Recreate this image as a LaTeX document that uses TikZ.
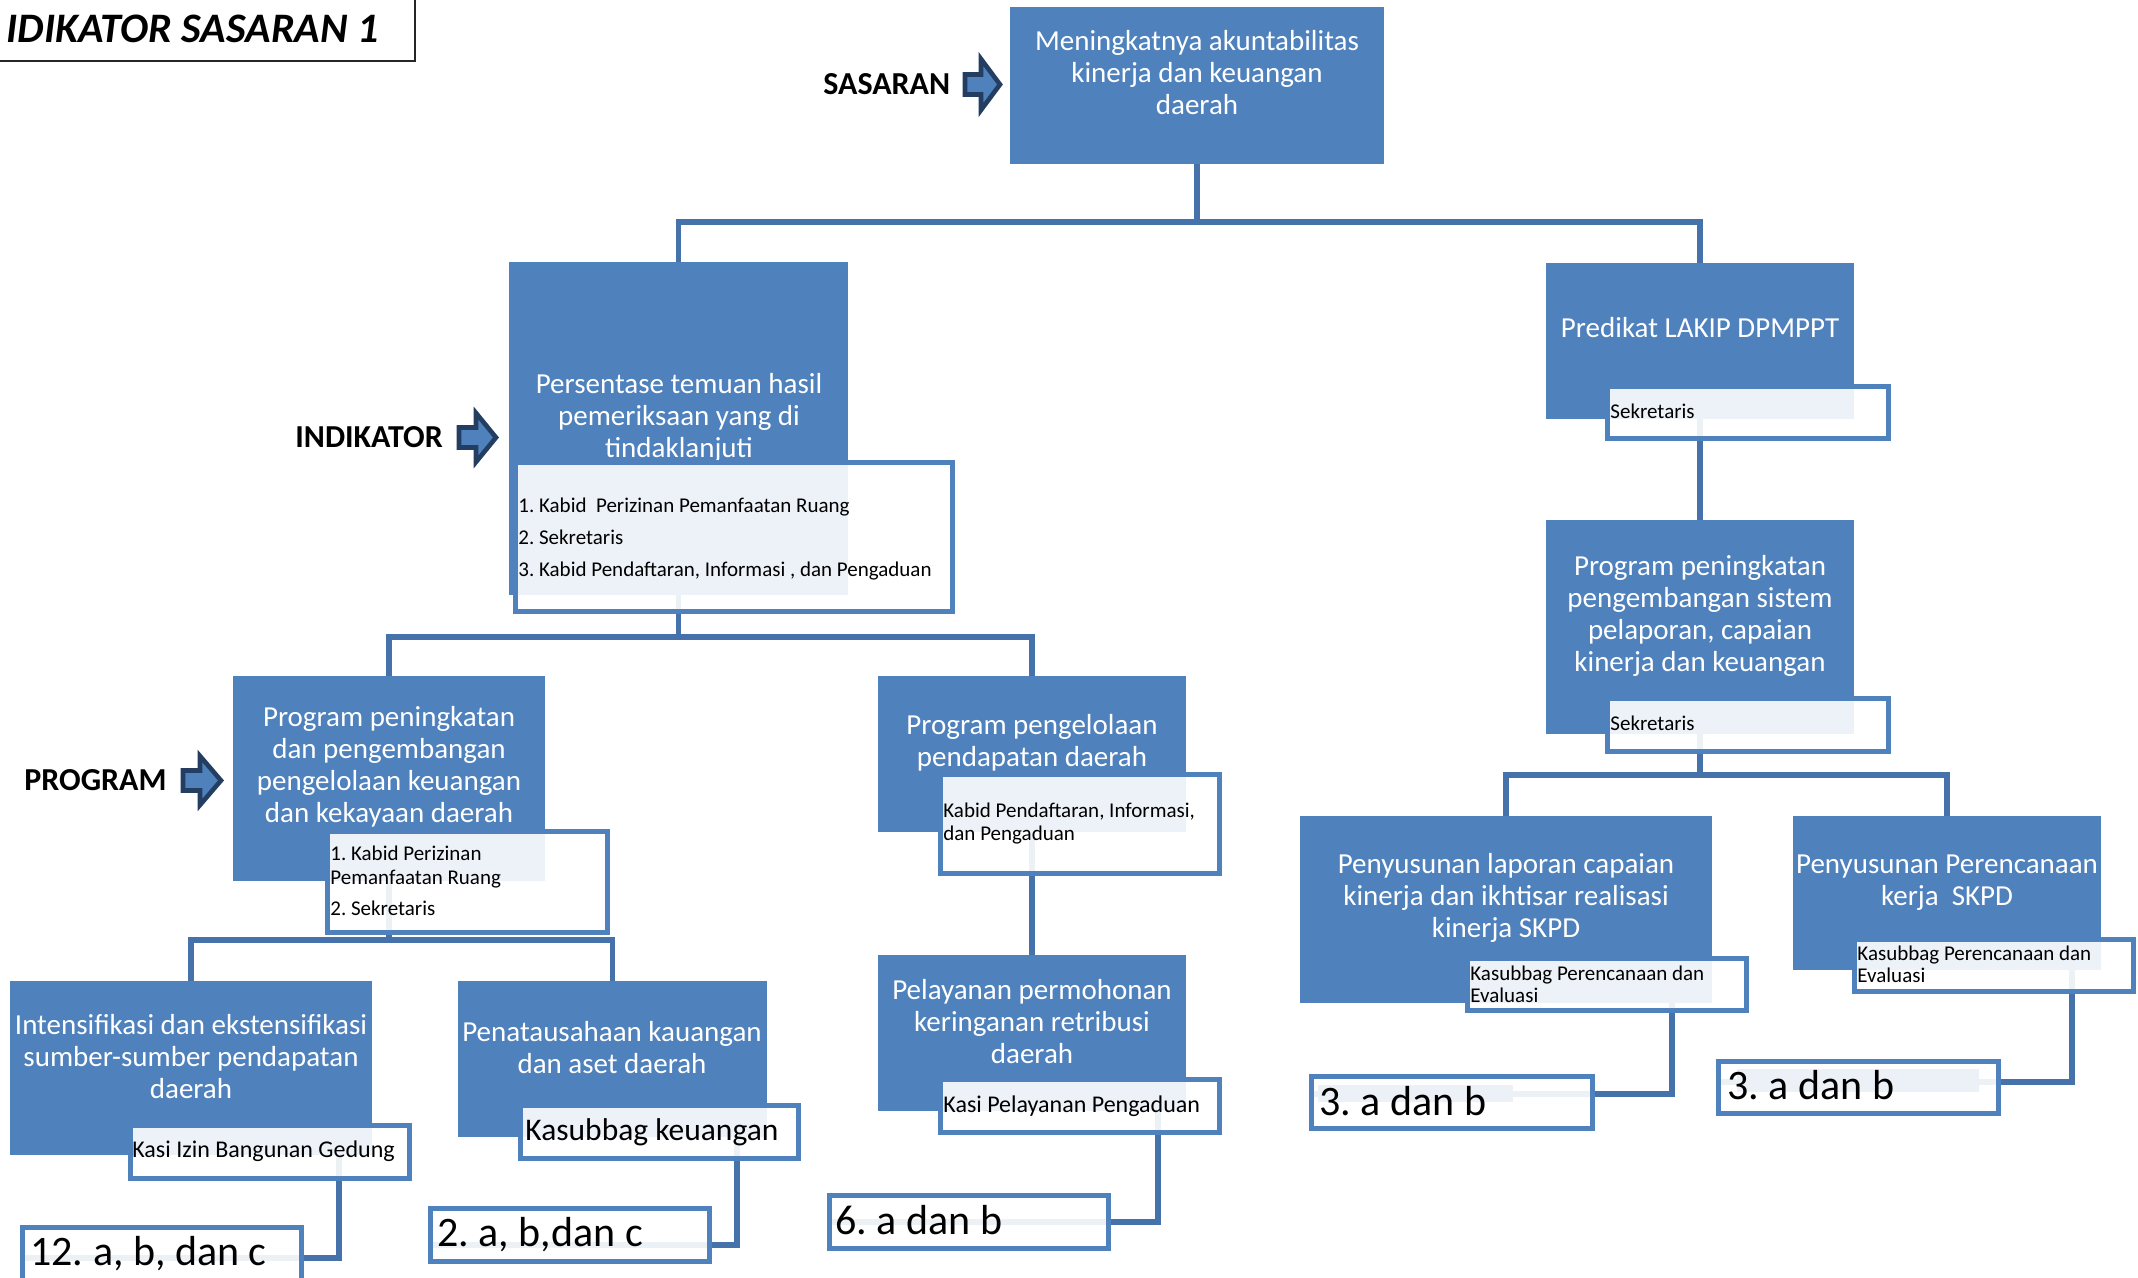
\documentclass[tikz,border=0pt]{standalone}
\usepackage{fontspec}
\setmainfont{Carlito}
\usetikzlibrary{fit}
\definecolor{boxblue}{RGB}{79,129,189}
\definecolor{connblue}{RGB}{70,114,172}
\definecolor{arrowdark}{RGB}{36,62,98}
\definecolor{arrowfill}{RGB}{79,129,189}
\definecolor{bandblue}{RGB}{236,241,248}
\frenchspacing
\begin{document}
\begin{tikzpicture}[x=0.5pt,y=-0.5pt,
 bigbox/.style={fill=boxblue, inner sep=0pt, outer sep=0pt},
 lbl/.style={fill=white, fill opacity=0.9, draw=boxblue, draw opacity=1, line width=2.5pt, inner sep=0pt, outer sep=0pt},
 conn/.style={draw=connblue, line width=2.75pt},
 maintxt/.style={text=white, align=center, inner sep=0pt, font=\fontsize{14.5}{16}\selectfont},
 lbltxt/.style={text=black, align=left, inner sep=0pt, font=\fontsize{10.5}{12}\selectfont},
 kasitxt/.style={text=black, inner sep=0pt, font=\fontsize{12}{14}\selectfont, anchor=base west},
 restxt/.style={text=black, inner sep=0pt, font=\fontsize{21}{25}\selectfont, anchor=base west},
 leveltxt/.style={text=black, inner sep=0pt, font=\bfseries\fontsize{16}{19}\selectfont, anchor=base west},
 blockarrow/.style={fill=arrowfill, draw=arrowdark, line width=2.3pt, line join=miter},
]
\useasboundingbox (0,0) rectangle (2138,1278);
\clip (0,0) rectangle (2138,1278);

% title
\node[font=\bfseries\itshape\fontsize{21}{25}\selectfont, anchor=base east, inner sep=0pt] (title) at (379,43) {IDIKATOR SASARAN 1};
\node[draw=black!85, line width=0.8pt, inner sep=0pt, fit={(-10,-10) (415,61)}] (titlebox) {};

% level labels and arrows
\node[leveltxt] (lsas) at (823,95) {SASARAN};
\node[leveltxt] (lind) at (295,448) {INDIKATOR};
\node[leveltxt] (lprog) at (24,790) {PROGRAM};
\draw[blockarrow] (965,74.5) -- (981,74.5) -- (981,59) -- (1000,84.5) -- (981,110) -- (981,94.5) -- (965,94.5) -- cycle;
\draw[blockarrow] (459,427.5) -- (476,427.5) -- (476,413) -- (496,437.5) -- (476,462) -- (476,447.5) -- (459,447.5) -- cycle;
\draw[blockarrow] (183,770.5) -- (200,770.5) -- (200,756) -- (221,780.5) -- (200,805) -- (200,790.5) -- (183,790.5) -- cycle;

% big boxes (geometry)
\node[bigbox, fit={(1010,7) (1384,164)}] (sas) {};
\node[bigbox, fit={(509,262) (848,595)}] (ind1) {};
\node[bigbox, fit={(1546,263) (1854,419)}] (ind2) {};
\node[bigbox, fit={(233,676) (545,881)}] (prog1) {};
\node[bigbox, fit={(878,676) (1186,832)}] (prog2) {};
\node[bigbox, fit={(1546,520) (1854,734)}] (prog3) {};
\node[bigbox, fit={(10,981) (372,1155)}] (keg1) {};
\node[bigbox, fit={(458,981) (767,1137)}] (keg2) {};
\node[bigbox, fit={(878,955) (1186,1111)}] (keg3) {};
\node[bigbox, fit={(1300,816) (1712,1003)}] (keg4) {};
\node[bigbox, fit={(1793,816) (2101,970)}] (keg5) {};

% tree connectors
\coordinate (j1) at (0,222);
\coordinate (j2) at (0,637);
\coordinate (j3) at (0,940);
\coordinate (j4) at (0,775);
\draw[conn] (sas.south) -- (sas.south |- j1);
\draw[conn] (ind1.north) |- (ind2.north |- j1) -- (ind2.north);
\draw[conn] (ind1.south) -- (ind1.south |- j2);
\draw[conn] (prog1.north) |- (prog2.north |- j2) -- (prog2.north);
\draw[conn] (prog1.south) -- (prog1.south |- j3);
\draw[conn] (keg1.north) |- (keg2.north |- j3) -- (keg2.north);
\draw[conn] (prog2.south) -- (keg3.north);
\draw[conn] (ind2.south) -- (prog3.north);
\draw[conn] (prog3.south) -- (prog3.south |- j4);
\draw[conn] (keg4.north) |- (keg5.north |- j4) -- (keg5.north);

% redraw boxes over connector ends
\fill[boxblue] (sas.north west) rectangle (sas.south east);
\fill[boxblue] (ind1.north west) rectangle (ind1.south east);
\fill[boxblue] (ind2.north west) rectangle (ind2.south east);
\fill[boxblue] (prog1.north west) rectangle (prog1.south east);
\fill[boxblue] (prog2.north west) rectangle (prog2.south east);
\fill[boxblue] (prog3.north west) rectangle (prog3.south east);
\fill[boxblue] (keg1.north west) rectangle (keg1.south east);
\fill[boxblue] (keg2.north west) rectangle (keg2.south east);
\fill[boxblue] (keg3.north west) rectangle (keg3.south east);
\fill[boxblue] (keg4.north west) rectangle (keg4.south east);
\fill[boxblue] (keg5.north west) rectangle (keg5.south east);

% result connector corners
\coordinate (r1) at (339,1258);
\coordinate (r2) at (737,1245);
\coordinate (r3) at (1158,1222);
\coordinate (r4) at (1672,1094);
\coordinate (r5) at (2072,1082);

% big box texts
\node[maintxt] (tsas) at (1197,73) {Meningkatnya akuntabilitas\\kinerja dan keuangan\\daerah};
\node[maintxt] (tind1) at (679,418) {Persentase temuan hasil\\pemeriksaan yang di\\tindaklanjuti};
\node[maintxt] (tind2) at (1700,328) {Predikat LAKIP DPMPPT};
\node[maintxt] (tprog1) at (389,767) {Program peningkatan\\dan pengembangan\\pengelolaan keuangan\\dan kekayaan daerah};
\node[maintxt] (tprog2) at (1032,743) {Program pengelolaan\\pendapatan daerah};
\node[maintxt] (tprog3) at (1700,616) {Program peningkatan\\pengembangan sistem\\pelaporan, capaian\\kinerja dan keuangan};
\node[maintxt] (tkeg1) at (191,1057) {Intensifikasi dan ekstensifikasi\\sumber-sumber pendapatan\\daerah};
\node[maintxt] (tkeg2) at (612,1048) {Penatausahaan kauangan\\dan aset daerah};
\node[maintxt] (tkeg3) at (1032,1022) {Pelayanan permohonan\\keringanan retribusi\\daerah};
\node[maintxt] (tkeg4) at (1506,898) {Penyusunan laporan capaian\\kinerja dan ikhtisar realisasi\\kinerja SKPD};
\node[maintxt] (tkeg5) at (1947,883) {Penyusunan Perencanaan\\kerja~ SKPD};

% result connectors drawn before labels/results
\draw[conn] (keg1.south -| r1) -- (r1) -- (r1 -| 22,0);
\draw[conn] (keg2.south -| r2) -- (r2) -- (r2 -| 430,0);
\draw[conn] (keg3.south -| r3) -- (r3) -- (r3 -| 829,0);
\draw[conn] (keg4.south -| r4) -- (r4) -- (r4 -| 1311,0);
\draw[conn] (keg5.south -| r5) -- (r5) -- (r5 -| 1718,0);

% labels
\node[lbl, fit={(515,463) (952,612)}] (lab1) {};
\node[lbl, fit={(1607,387) (1888,439)}] (lab2) {};
\node[lbl, fit={(327,831) (607,932)}] (lab3) {};
\node[lbl, fit={(940,774) (1219,873)}] (lab4) {};
\node[lbl, fit={(940,1079) (1219,1132)}] (lab5) {};
\node[lbl, fit={(130,1125) (409,1178)}] (lab6) {};
\node[lbl, fit={(520,1105) (798,1158)}] (lab7) {};
\node[lbl, fit={(1607,698) (1888,751)}] (lab8) {};
\node[lbl, fit={(1467,958) (1746,1010)}] (lab9) {};
\node[lbl, fit={(1854,939) (2133,991)}] (lab10) {};

% results
\node[lbl, fit={(22,1227) (301,1284)}] (res1) {};
\node[lbl, fit={(430,1208) (709,1261)}] (res2) {};
\node[lbl, fit={(829,1195) (1108,1248)}] (res3) {};
\node[lbl, fit={(1311,1076) (1592,1128)}] (res4) {};
\node[lbl, fit={(1718,1061) (1998,1113)}] (res5) {};
\fill[bandblue] (1318,1085) rectangle (1513,1102);
\fill[bandblue] (1737,1069) rectangle (1979,1092);

% label texts
\node[lbltxt, anchor=west, font=\fontsize{10.5}{16}\selectfont] (tl1) at (518,539) {1. Kabid~ Perizinan Pemanfaatan Ruang\\2. Sekretaris\\3. Kabid Pendaftaran, Informasi , dan Pengaduan};
\node[lbltxt, anchor=base west] (tl2) at (1610,419) {Sekretaris};
\node[lbltxt, anchor=west] (tl3) at (330,881) {1. Kabid Perizinan\\Pemanfaatan Ruang\\[3.5pt]2. Sekretaris};
\node[lbltxt, anchor=west, font=\fontsize{10.5}{11.5}\selectfont] (tl4) at (943,823.5) {Kabid Pendaftaran, Informasi,\\dan Pengaduan};
\node[kasitxt] (tl5) at (943,1112) {Kasi Pelayanan Pengaduan};
\node[kasitxt] (tl6) at (132,1157) {Kasi Izin Bangunan Gedung};
\node[kasitxt, font=\fontsize{15.75}{18}\selectfont] (tl7) at (525,1140) {Kasubbag keuangan};
\node[lbltxt, anchor=base west] (tl8) at (1610,730) {Sekretaris};
\node[lbltxt, anchor=west, font=\fontsize{10.5}{11}\selectfont] (tl9) at (1470,984) {Kasubbag Perencanaan dan\\Evaluasi};
\node[lbltxt, anchor=west, font=\fontsize{10.5}{11}\selectfont] (tl10) at (1857,964.5) {Kasubbag Perencanaan dan\\Evaluasi};

% result texts
\node[restxt] (tr1) at (30,1265) {12. a, b, dan c};
\node[restxt] (tr2) at (437,1246) {2. a, b,dan c};
\node[restxt] (tr3) at (835,1234) {6. a dan b};
\node[restxt] (tr4) at (1319,1115) {3. a dan b};
\node[restxt] (tr5) at (1727,1099) {3. a dan b};
\end{tikzpicture}
\end{document}
